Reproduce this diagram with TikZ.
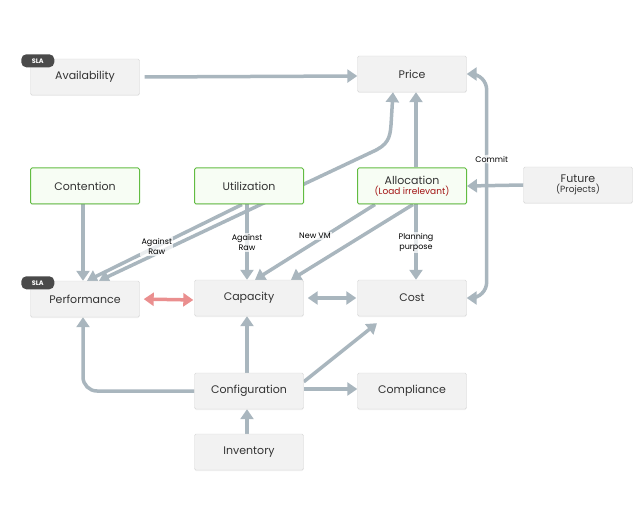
\documentclass[tikz,border=0pt]{standalone}
\usepackage{fontspec}
\setmainfont{Poppins}
\usetikzlibrary{arrows.meta,backgrounds,shadows}
\definecolor{boxfill}{HTML}{F2F2F2}
\definecolor{boxline}{HTML}{D8D8D8}
\definecolor{greenfill}{HTML}{F7FDF4}
\definecolor{greenline}{HTML}{62BC42}
\definecolor{flowgray}{HTML}{A9B6BE}
\definecolor{flowred}{HTML}{EA8F8F}
\definecolor{badge}{HTML}{4A4A4A}
\definecolor{note}{HTML}{A31515}
\tikzset{
  box/.style={draw=boxline,fill=boxfill,rounded corners=1.5pt,minimum width=109pt,
    minimum height=36pt,inner sep=2pt,font=\fontsize{11}{13}\selectfont,text=black!80,
    drop shadow={shadow xshift=0pt,shadow yshift=-1pt,opacity=0.12}},
  greenbox/.style={box,draw=greenline,line width=1pt,fill=greenfill},
  sla/.style={fill=badge,rounded corners=5pt,minimum width=33pt,minimum height=13pt,
    inner sep=0pt,text=white,font=\fontsize{6.5}{7}\selectfont\bfseries},
  flow/.style={draw=flowgray,line width=3.5pt,-{Triangle[width=13pt,length=10pt]}},
  both/.style={flow,{Triangle[width=13pt,length=10pt]}-{Triangle[width=13pt,length=10pt]}},
  tag/.style={fill=white,fill opacity=0.75,text opacity=1,inner sep=1.5pt,align=center,
    font=\fontsize{8}{10}\selectfont,text=black}
}
\begin{document}
\begin{tikzpicture}[x=1pt,y=-1pt]
    \useasboundingbox (0,0) rectangle (642,521);

    \node[box] (avail) at (85,77) {Availability};
    \node[box] (price) at (412,74) {Price};
    \node[greenbox] (cont) at (85,186) {Contention};
    \node[greenbox] (util) at (249,186) {Utilization};
    \node[greenbox,align=center] (alloc) at (412,186)
        {Allocation\\[-3pt]{\fontsize{9}{10}\selectfont\color{note}(Load irrelevant)}};
    \node[box,align=center] (future) at (578,185)
        {Future\\[-3pt]{\fontsize{9}{10}\selectfont(Projects)}};
    \node[box] (perf) at (85,299) {Performance};
    \node[box] (cap) at (249,298) {Capacity};
    \node[box] (cost) at (412,298) {Cost};
    \node[box] (config) at (249,391) {Configuration};
    \node[box] (compl) at (412,391) {Compliance};
    \node[box] (inv) at (249,452) {Inventory};

    \node[sla] at ([xshift=7.5pt,yshift=-2pt]avail.north west) {SLA};
    \node[sla] at ([xshift=7.5pt,yshift=-2pt]perf.north west) {SLA};

    \begin{pgfonlayer}{background}
    \draw[flow] ([xshift=5pt]avail.east) -- ([yshift=1pt]avail.east -| price.west);
    \draw[flow] ([xshift=4pt]alloc.north) -- ([xshift=4pt]price.south);
    \draw[both] ([xshift=14pt]perf.north) -- (372,152)
        .. controls (388,145) and (390,138) .. (391,125) -- ([xshift=-19pt]price.south);
    \draw[flow] ([xshift=-7pt]util.south) -- node[tag,pos=0.55]{Against\\Raw} ([xshift=2pt]perf.north);
    \draw[flow] ([xshift=-2pt]util.south) -- node[tag]{Against\\Raw} ([xshift=-2pt]cap.north);
    \draw[flow] ([xshift=-37pt]alloc.south) -- node[tag,pos=0.5,yshift=6pt]{New VM} ([xshift=6pt]cap.north);
    \draw[flow] ([xshift=1pt]alloc.south) -- ([xshift=42pt]cap.north);
    \draw[flow] ([xshift=4pt]alloc.south) -- node[tag]{Planning\\purpose} ([xshift=4pt]cost.north);
    \draw[both,rounded corners=16pt] (price.east) -- ++(20,0)
        |- node[tag,pos=0.19,xshift=5pt]{Commit} (cost.east);
    \draw[flow] (future.west) -- (alloc.east);
    \draw[flow] ([xshift=-2pt]cont.south) -- ([xshift=-2pt]perf.north);
    \draw[both,draw=flowred,shorten <=4pt,shorten >=1pt] (perf.east) -- ([yshift=-1pt]perf.east -| cap.west);
    \draw[both,shorten <=4pt,shorten >=1pt] (cap.east) -- (cost.west);
    \draw[flow] ([xshift=-2pt]config.north) -- ([xshift=-2pt]cap.south);
    \draw[flow,rounded corners=14pt] (config.west) -| ([xshift=-2pt]perf.south);
    \draw[flow] ([yshift=-9pt]config.north east) -- ([xshift=-35pt,yshift=-7pt]cost.south);
    \draw[flow] ([yshift=2pt]config.east) -- ([yshift=2pt]config.east -| compl.west);
    \draw[flow] ([xshift=-2pt]inv.north) -- ([xshift=-2pt]config.south);
    \end{pgfonlayer}
\end{tikzpicture}
\end{document}
